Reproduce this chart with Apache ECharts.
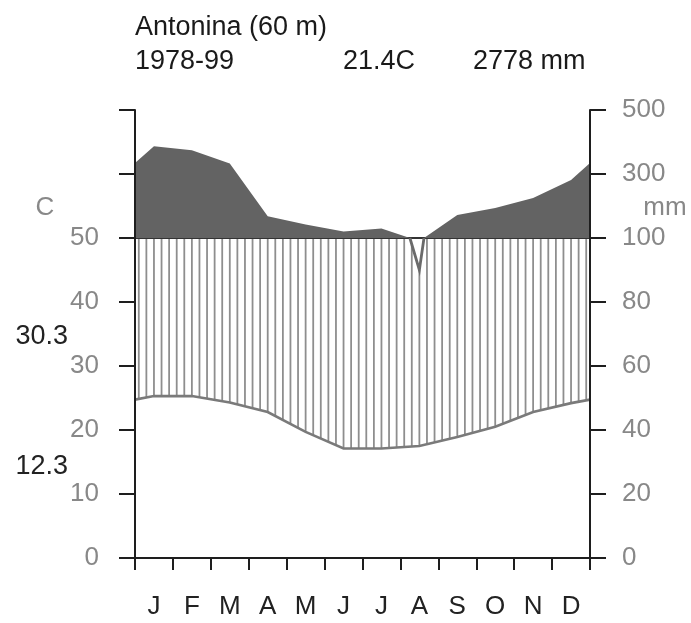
<!DOCTYPE html>
<html>
<head>
<meta charset="utf-8">
<script src="https://cdn.jsdelivr.net/npm/echarts@6/dist/echarts.min.js"></script>
<style>
html,body{margin:0;padding:0;background:#fff;}
#chart{width:691px;height:623px;}
</style>
</head>
<body>
<div id="chart"></div>
<script>
// ---- data ----
const months = ['J','F','M','A','M','J','J','A','S','O','N','D'];
const temperature = [25.3, 25.3, 24.3, 22.8, 19.7, 17.1, 17.1, 17.5, 18.9, 20.5, 22.8, 24.2]; // °C
const precipitation = [387, 374, 333, 168, 142, 120, 130, 90, 172, 194, 225, 281];          // mm
const leftTickLabels = ['0','10','20','30','40','50','',''];
const rightTickLabels = ['0','20','40','60','80','100','300','500'];
const stationText = 'Antonina (60 m)';
const periodText = '1978-99';
const meanTempText = '21.4C';
const annualPrecipText = '2778 mm';
const maxWarmText = '30.3';
const minColdText = '12.3';

const FONT = '"Liberation Sans", Arial, sans-serif';

// precipitation (mm) -> diagram scale (°C units): 2 mm per °C up to 100 mm, 20 mm per °C above
function precipToScale(p) { return p <= 100 ? p / 2 : 50 + (p - 100) / 20; }

// cyclic month-centre vertices (Dec before Jan, Jan after Dec)
const vxAll = [-0.5].concat(months.map((m, i) => i + 0.5), [12.5]);
const tAll = [temperature[11]].concat(temperature, [temperature[0]]);
const pAll = [precipitation[11]].concat(precipitation, [precipitation[0]]);

function at(arr, x) {
  for (let i = 0; i < vxAll.length - 1; i++) {
    if (x >= vxAll[i] && x <= vxAll[i + 1]) {
      const f = (x - vxAll[i]) / (vxAll[i + 1] - vxAll[i]);
      return arr[i] + f * (arr[i + 1] - arr[i]);
    }
  }
  return arr[arr.length - 1];
}

function renderItem(params, api) {
  if (params.dataIndex !== 0) return null;
  const pt = (x, v) => api.coord([x, v]);
  const children = [];
  const vx = [0].concat(months.map((m, i) => i + 0.5), [12]);

  // hatch lines (humid period)
  const nHatch = 60;
  for (let k = 0; k < nHatch; k++) {
    const x = (k + 0.5) * 12 / nHatch;
    const top = Math.min(at(pAll, x), 100) / 2;
    const bot = at(tAll, x);
    if (top > bot) {
      const a = pt(x, top), b = pt(x, bot);
      children.push({ type: 'line', shape: { x1: a[0], y1: a[1], x2: b[0], y2: b[1] },
        style: { stroke: '#8e8e8e', lineWidth: 1.8 } });
    }
  }

  // 100 mm line
  const l0 = pt(0, 50), l1 = pt(12, 50);
  children.push({ type: 'line', shape: { x1: l0[0], y1: l0[1], x2: l1[0], y2: l1[1] },
    style: { stroke: '#333', lineWidth: 2 } });

  // precipitation vertices with 100 mm crossings
  const pts = [];
  for (let j = 0; j < vx.length; j++) {
    const x = vx[j], p = at(pAll, x);
    if (j > 0) {
      const px = vx[j - 1], pp = at(pAll, px);
      if ((pp - 100) * (p - 100) < 0) {
        const xc = px + (100 - pp) / (p - pp) * (x - px);
        pts.push([xc, 100]);
      }
    }
    pts.push([x, p]);
  }
  // dark fill above 100 mm
  const poly = pts.map(d => pt(d[0], precipToScale(Math.max(d[1], 100))));
  poly.push(pt(12, 50));
  poly.push(pt(0, 50));
  children.push({ type: 'polygon', shape: { points: poly }, style: { fill: '#636363', stroke: null } });

  // precipitation line below 100 mm
  let run = [];
  const flush = () => {
    if (run.length > 1) children.push({ type: 'polyline', shape: { points: run },
      style: { stroke: '#6a6a6a', lineWidth: 2.8, fill: null } });
    run = [];
  };
  for (let j = 0; j < pts.length; j++) {
    if (pts[j][1] <= 100) run.push(pt(pts[j][0], precipToScale(pts[j][1])));
    else flush();
  }
  flush();

  // temperature line
  const tline = vx.map(x => pt(x, at(tAll, x)));
  children.push({ type: 'polyline', shape: { points: tline }, style: { stroke: '#7a7a7a', lineWidth: 2.6, fill: null } });

  return { type: 'group', children: children };
}

const chart = echarts.init(document.getElementById('chart'), null, { renderer: 'canvas' });
const axisColor = '#1e1e1e';
const option = {
  animation: false,
  backgroundColor: '#fff',
  textStyle: { fontFamily: FONT },
  grid: { left: 135, right: 101, top: 110, bottom: 65, containLabel: false, outerBoundsMode: 'none' },
  xAxis: [
    {
      type: 'category', data: months, boundaryGap: true, position: 'bottom', z: 10,
      axisLine: { show: true, onZero: false, lineStyle: { color: axisColor, width: 2 } },
      axisTick: { show: true, length: 12, alignWithLabel: false, interval: 0, lineStyle: { color: axisColor, width: 2 } },
      axisLabel: { interval: 0, margin: 36, fontSize: 26, color: '#222', fontFamily: FONT },
      splitLine: { show: false }
    },
    { type: 'value', min: 0, max: 12, show: false }
  ],
  yAxis: [
    {
      type: 'value', position: 'left', min: 0, max: 70, interval: 10, z: 10,
      axisLine: { show: true, lineStyle: { color: axisColor, width: 2 } },
      axisTick: { show: true, length: 16, lineStyle: { color: axisColor, width: 2 } },
      axisLabel: { margin: 36, fontSize: 26, color: '#888', fontFamily: FONT,
        formatter: (v, i) => leftTickLabels[i] },
      splitLine: { show: false }
    },
    {
      type: 'value', position: 'right', min: 0, max: 70, interval: 10, z: 10,
      axisLine: { show: true, lineStyle: { color: axisColor, width: 2 } },
      axisTick: { show: true, length: 16, lineStyle: { color: axisColor, width: 2 } },
      axisLabel: { margin: 32, fontSize: 26, color: '#888', fontFamily: FONT,
        formatter: (v, i) => rightTickLabels[i] },
      splitLine: { show: false }
    }
  ],
  series: [
    {
      type: 'custom', xAxisIndex: 1, yAxisIndex: 0, renderItem: renderItem,
      data: [[0, 0]], silent: true, z: 2
    }
  ],
  graphic: [
    { type: 'text', x: 135, y: 28, style: { text: stationText, font: '27px ' + FONT, fill: '#1a1a1a', textAlign: 'left', textVerticalAlign: 'middle' } },
    { type: 'text', x: 135, y: 62, style: { text: periodText, font: '27px ' + FONT, fill: '#1a1a1a', textAlign: 'left', textVerticalAlign: 'middle' } },
    { type: 'text', x: 343, y: 62, style: { text: meanTempText, font: '27px ' + FONT, fill: '#1a1a1a', textAlign: 'left', textVerticalAlign: 'middle' } },
    { type: 'text', x: 473, y: 62, style: { text: annualPrecipText, font: '27px ' + FONT, fill: '#1a1a1a', textAlign: 'left', textVerticalAlign: 'middle' } },
    { type: 'text', x: 45, y: 208, style: { text: 'C', font: '26px ' + FONT, fill: '#888', textAlign: 'center', textVerticalAlign: 'middle' } },
    { type: 'text', x: 665, y: 208, style: { text: 'mm', font: '26px ' + FONT, fill: '#888', textAlign: 'center', textVerticalAlign: 'middle' } },
    { type: 'text', x: 68, y: 337, style: { text: maxWarmText, font: '27px ' + FONT, fill: '#222', textAlign: 'right', textVerticalAlign: 'middle' } },
    { type: 'text', x: 68, y: 467, style: { text: minColdText, font: '27px ' + FONT, fill: '#222', textAlign: 'right', textVerticalAlign: 'middle' } }
  ]
};
chart.setOption(option);
</script>
</body>
</html>
